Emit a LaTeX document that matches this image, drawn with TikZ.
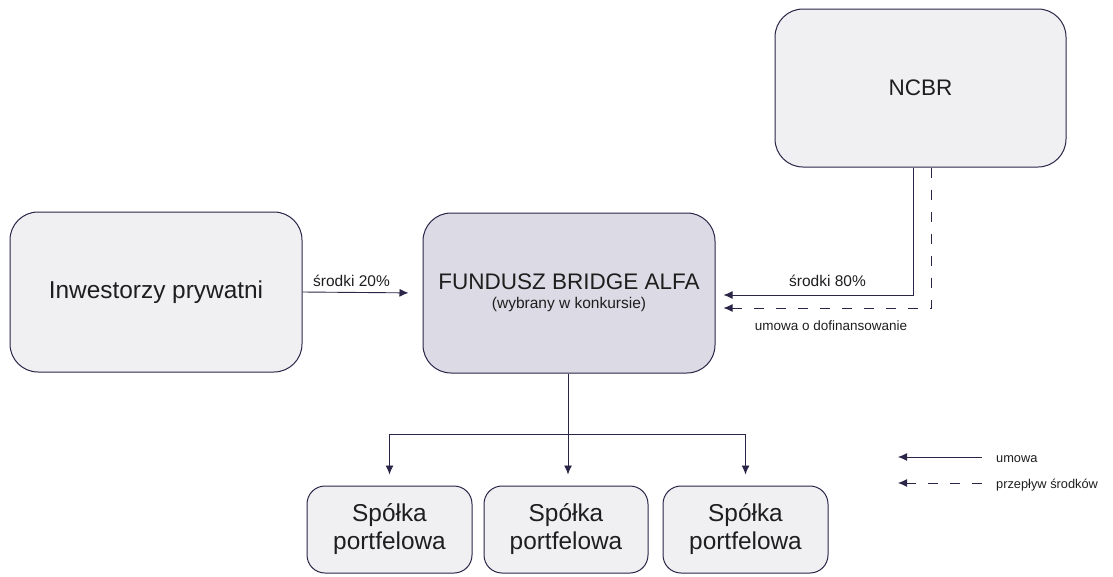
\documentclass[tikz,border=0pt]{standalone}
\usepackage{fontspec}
\setmainfont{Liberation Sans}
\usetikzlibrary{arrows.meta,calc}
\definecolor{ink}{HTML}{2B2548}
\definecolor{boxfill}{HTML}{F0F0F3}
\definecolor{fundfill}{HTML}{DCDAE4}
\definecolor{txt}{HTML}{1E1E1E}
\tikzset{
  box/.style={draw=ink, line width=1pt, rounded corners=28pt, fill=boxfill, align=center, text=txt, inner sep=0pt},
  smallbox/.style={box, rounded corners=18pt},
  arr/.style={draw=ink, line width=0.9pt, -{Latex[length=9pt,width=8pt]}},
  plain/.style={draw=ink, line width=0.9pt},
  dashedarr/.style={arr, dash pattern=on 10pt off 12pt},
  lbl/.style={text=txt, font=\fontsize{15.5}{18}\selectfont, inner sep=0pt, anchor=base},
  lgd/.style={text=txt, font=\fontsize{12.8}{15}\selectfont, inner sep=0pt, anchor=base west},
}
\begin{document}
\begin{tikzpicture}[x=1pt,y=-1pt]
\useasboundingbox (0,0) rectangle (1113,576);
\node[box, minimum width=292pt, minimum height=160pt, font=\fontsize{24.4}{28}\selectfont] (inv) at (156,292) {Inwestorzy prywatni};
\node[box, fill=fundfill, minimum width=292pt, minimum height=160pt, font=\fontsize{22.5}{19}\selectfont] (fund) at (569,293) {FUNDUSZ BRIDGE ALFA\\{\fontsize{15.5}{19}\selectfont (wybrany w konkursie)}};
\node[box, minimum width=291pt, minimum height=158pt, font=\fontsize{22.5}{26}\selectfont] (ncbr) at (920.5,88) {NCBR};
\node[smallbox, minimum width=165pt, minimum height=87pt, font=\fontsize{24.4}{28}\selectfont] (s1) at (389.5,529.5) {Spółka\\portfelowa};
\node[smallbox, minimum width=164pt, minimum height=87pt, font=\fontsize{24.4}{28}\selectfont] (s2) at (566,529.5) {Spółka\\portfelowa};
\node[smallbox, minimum width=165pt, minimum height=87pt, font=\fontsize{24.4}{28}\selectfont] (s3) at (745.5,529.5) {Spółka\\portfelowa};

% investors -> fund
\draw[arr, shorten >=14pt] (inv.east) -- (fund.west);
\node[lbl] (l20) at (351.5,286.5) {środki 20\%};

% NCBR -> fund
\draw[arr, shorten >=8pt] ([xshift=-7pt]ncbr.south) |- ([yshift=-2pt]fund.east);
\node[lbl] (l80) at (827.5,286) {środki 80\%};
\draw[dashedarr, shorten >=8pt] ([xshift=10.5pt]ncbr.south) |- ([yshift=-15pt]fund.east);
\node[lbl, font=\fontsize{13.5}{16}\selectfont] (lum) at (831,330) {umowa o dofinansowanie};

% fund -> companies
\coordinate (j) at (568,434);
\draw[plain] (fund.south -| j) -- (j);
\draw[plain] (s1.north |- j) -- (s3.north |- j);
\draw[arr, shorten >=11pt] (s1.north |- j) -- (s1.north);
\draw[arr, shorten >=11pt] (j) -- (s2.north -| j);
\draw[arr, shorten >=11pt] (s3.north |- j) -- (s3.north);

% legend
\coordinate (la1) at (982,457);
\coordinate (lb1) at (898,457);
\coordinate (la2) at (982,483);
\coordinate (lb2) at (898,483);
\draw[arr] (la1) -- (lb1);
\draw[dashedarr] (la2) -- (lb2);
\node[lgd] (lg1) at (996,462) {umowa};
\node[lgd] (lg2) at (996,488) {przepływ środków};
\end{tikzpicture}
\end{document}
